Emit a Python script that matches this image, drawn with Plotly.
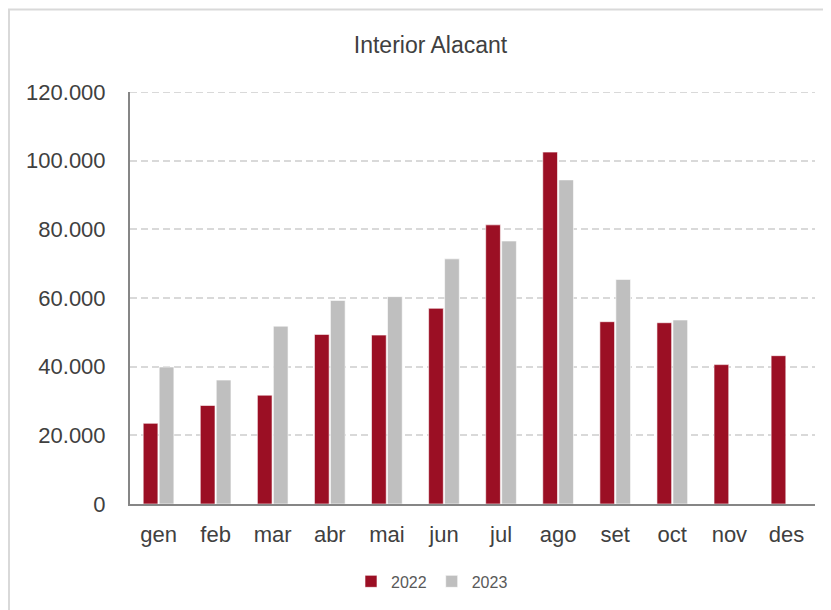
import plotly.graph_objects as go

# ------------------------------------------------------------------
# Data
# ------------------------------------------------------------------

months = ["gen", "feb", "mar", "abr", "mai", "jun",
          "jul", "ago", "set", "oct", "nov", "des"]

values_2022 = [23500, 28700, 31700, 49400, 49200, 57000,
               81300, 102500, 53100, 52800, 40600, 43200]

values_2023 = [39900, 36100, 51800, 59300, 60400, 71400,
               76600, 94400, 65400, 53600, None, None]

y_ticks = [0, 20000, 40000, 60000, 80000, 100000, 120000]

# ------------------------------------------------------------------
# Theme
# ------------------------------------------------------------------

RED = "#9B0F24"
GRAY = "#BFBFBF"
GRID = "#D9D9D9"
AXIS = "#868686"
TEXT = "#404040"
FONT = "Liberation Sans, Arial, sans-serif"

# the page body adds an 8px margin, so the figure is drawn 8px smaller
FIG_W, FIG_H = 823, 602
MARGIN = dict(l=122, r=16, t=84, b=103)
PLOT_W = FIG_W - MARGIN["l"] - MARGIN["r"]
PLOT_H = FIG_H - MARGIN["t"] - MARGIN["b"]

fig = go.Figure()

fig.add_trace(
    go.Bar(
        x=months,
        y=values_2022,
        name="2022",
        marker=dict(color=RED, line=dict(color="white", width=0.6)),
    )
)

fig.add_trace(
    go.Bar(
        x=months,
        y=values_2023,
        name="2023",
        marker=dict(color=GRAY, line=dict(color="white", width=0.6)),
    )
)

fig.update_layout(
    width=FIG_W,
    height=FIG_H,
    paper_bgcolor="white",
    plot_bgcolor="white",
    separators=",.",
    barmode="group",
    bargap=0.44,
    bargroupgap=0.08,
    margin=MARGIN,
    font=dict(family=FONT, color=TEXT),
    title=dict(
        text="Interior Alacant",
        x=(MARGIN["l"] + PLOT_W / 2 - 42) / FIG_W,
        xanchor="center",
        y=1 - 37 / FIG_H,
        yanchor="middle",
        font=dict(size=23, color=TEXT, family=FONT),
    ),
    legend=dict(
        orientation="h",
        x=(424 - MARGIN["l"]) / PLOT_W,
        xanchor="center",
        y=-78 / PLOT_H,
        yanchor="middle",
        font=dict(size=16, color="#595959"),
        itemwidth=30,
        traceorder="normal",
    ),
    shapes=[
        # chart frame
        dict(
            type="rect",
            xref="paper",
            yref="paper",
            x0=(-MARGIN["l"] + 1) / PLOT_W,
            x1=1.05,
            y0=-0.3,
            y1=(PLOT_H + MARGIN["t"] - 1) / PLOT_H,
            line=dict(color=GRID, width=2),
            layer="below",
        ),
        # top gridline (plotly skips the one on the range edge)
        dict(
            type="line",
            xref="paper",
            yref="y",
            x0=0,
            x1=1,
            y0=y_ticks[-1],
            y1=y_ticks[-1],
            line=dict(color=GRID, width=2, dash="7px,4px"),
            layer="below",
        ),
    ],
)

fig.update_xaxes(
    showline=True,
    linecolor=AXIS,
    linewidth=2,
    showgrid=False,
    tickfont=dict(size=22, color=TEXT),
    ticks="",
    ticklabelstandoff=10,
)

fig.update_yaxes(
    range=[0, 120000],
    tickvals=y_ticks,
    tickformat=",d",
    showline=True,
    linecolor=AXIS,
    linewidth=2,
    showgrid=True,
    gridcolor=GRID,
    griddash="7px,4px",
    gridwidth=2,
    zeroline=False,
    tickfont=dict(size=22, color=TEXT),
    ticklabelstandoff=18,
)

fig.write_html("out.html")
